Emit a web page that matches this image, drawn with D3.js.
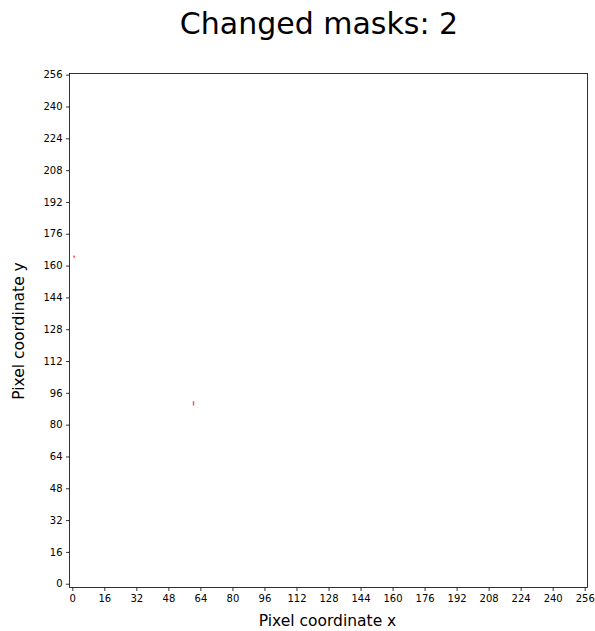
<!DOCTYPE html>
<html>
<head>
<meta charset="utf-8">
<script src="https://cdn.jsdelivr.net/npm/d3@7"></script>
<style>
  html, body { margin: 0; padding: 0; background: #fff; }
  svg { display: block; font-family: "DejaVu Sans", sans-serif; }
</style>
</head>
<body>
<svg id="chart" width="595" height="631"></svg>
<script>
// Tick values shared by both axes (image pixel grid, 0..256 every 16)
const tickValues = d3.range(0, 257, 16);

// Changed mask regions in pixel coordinates (bounding boxes)
const maskX0 = [0.5, 60.2];
const maskX1 = [1.4, 60.9];
const maskY0 = [164.0, 89.6];
const maskY1 = [165.0, 91.8];

(function draw() {
  const titleText = "Changed masks: " + maskX0.length;

  const svg = d3.select("#chart");
  const plotLeft = 69.5, plotRight = 587.5, plotTop = 73.5, plotBottom = 587.5;

  const x = d3.scaleLinear().domain([-1.4, 257.4]).range([plotLeft, plotRight]);
  const y = d3.scaleLinear().domain([-1.9, 256.6]).range([plotBottom, plotTop]);

  // Mask marks
  const masks = maskX0.map((d, i) => ({ x0: d, x1: maskX1[i], y0: maskY0[i], y1: maskY1[i] }));
  svg.append("g").selectAll("rect").data(masks).join("rect")
    .attr("x", d => x(d.x0))
    .attr("y", d => y(d.y1))
    .attr("width", d => x(d.x1) - x(d.x0))
    .attr("height", d => y(d.y0) - y(d.y1))
    .attr("fill", "#ff2020")
    .attr("fill-opacity", 0.8);

  // Axes
  const xAxis = svg.append("g")
    .attr("transform", `translate(0,${plotBottom})`)
    .call(d3.axisBottom(x).tickValues(tickValues).tickSize(3.5).tickPadding(3.5));
  const yAxis = svg.append("g")
    .attr("transform", `translate(${plotLeft},0)`)
    .call(d3.axisLeft(y).tickValues(tickValues).tickSize(3.5).tickPadding(3.5));

  [xAxis, yAxis].forEach(g => {
    g.select(".domain").remove();
    g.selectAll(".tick line").attr("stroke", "#000").attr("stroke-width", 0.8);
    g.selectAll(".tick text").attr("fill", "#000").attr("font-size", 10)
      .attr("font-family", "DejaVu Sans, sans-serif");
  });

  // Frame
  svg.append("rect")
    .attr("x", plotLeft).attr("y", plotTop)
    .attr("width", plotRight - plotLeft).attr("height", plotBottom - plotTop)
    .attr("fill", "none").attr("stroke", "#000").attr("stroke-width", 0.8);

  // Titles
  svg.append("text")
    .attr("x", 319).attr("y", 34)
    .attr("text-anchor", "middle")
    .attr("font-size", 30)
    .attr("fill", "#000")
    .text(titleText);

  svg.append("text")
    .attr("x", 327.5).attr("y", 626)
    .attr("text-anchor", "middle")
    .attr("font-size", 15.5)
    .attr("fill", "#000")
    .text("Pixel coordinate x");

  svg.append("text")
    .attr("transform", `translate(24,${331}) rotate(-90)`)
    .attr("text-anchor", "middle")
    .attr("font-size", 15.5)
    .attr("fill", "#000")
    .text("Pixel coordinate y");
})();
</script>
</body>
</html>
